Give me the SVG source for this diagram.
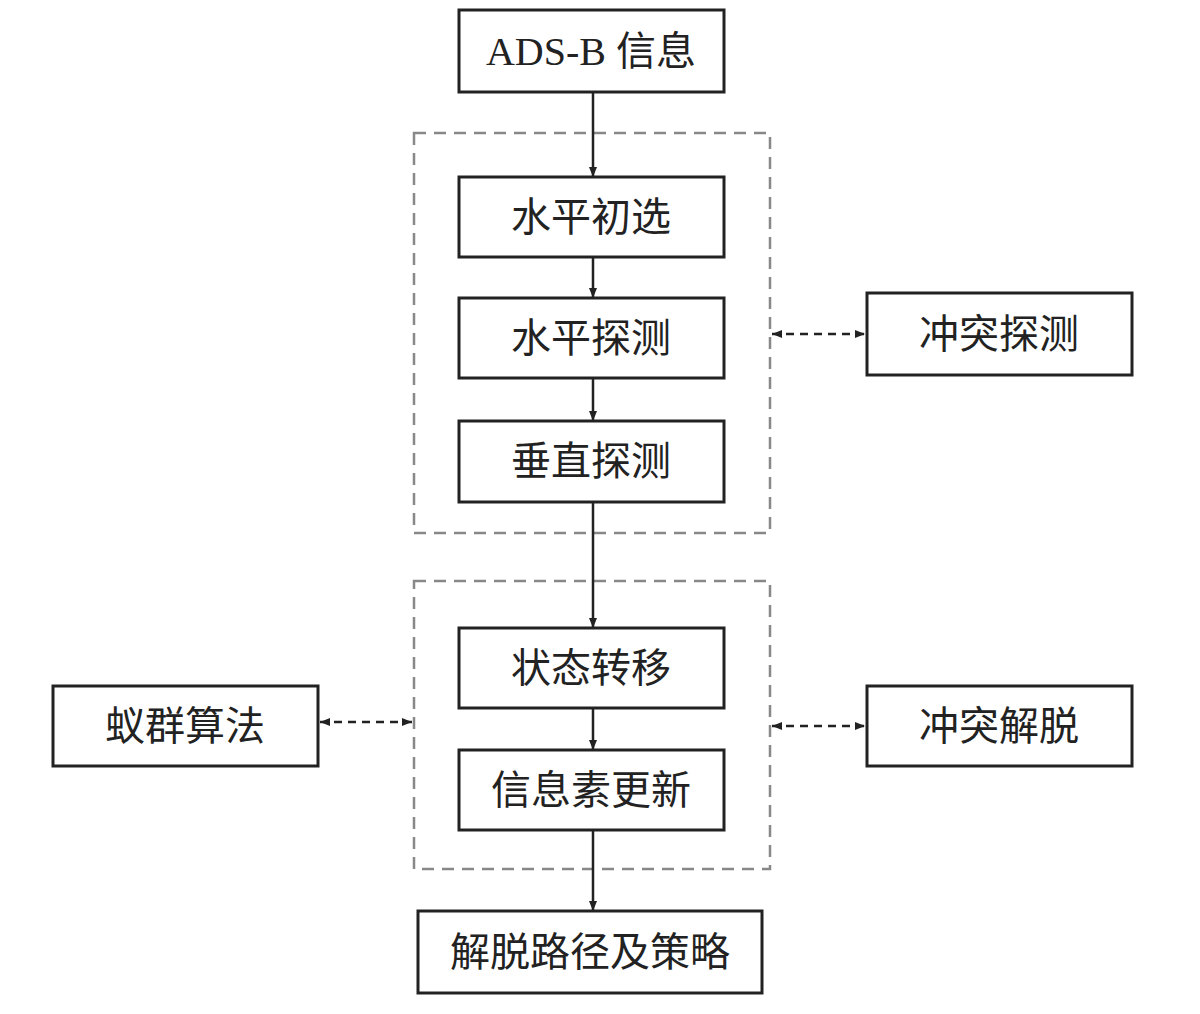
<svg xmlns="http://www.w3.org/2000/svg" width="1200" height="1014" viewBox="0 0 1200 1014">
<style>
.n rect{fill:#fff;stroke:#222;stroke-width:3}
.n text{font-family:"Liberation Serif","Noto Sans CJK SC",serif;font-size:40px;fill:#222;text-anchor:middle;dominant-baseline:central}
.g{fill:none;stroke:#888;stroke-width:2.5;stroke-dasharray:12 8}
.c line{stroke:#222;stroke-width:2.5}
.d line{stroke-dasharray:8 6}
</style>
<defs>
<marker id="a" viewBox="0 0 10 10" refX="10" refY="5" markerWidth="10" markerHeight="10" markerUnits="userSpaceOnUse" orient="auto-start-reverse"><path d="M0,1 L10,5 L0,9 z" fill="#222"/></marker>
</defs>
<rect class="g" x="414" y="133" width="356" height="400"/>
<rect class="g" x="414" y="581" width="356" height="288"/>
<g class="c">
<line x1="593" y1="92" x2="593" y2="177" marker-end="url(#a)"/>
<line x1="593" y1="257" x2="593" y2="298" marker-end="url(#a)"/>
<line x1="593" y1="378" x2="593" y2="421" marker-end="url(#a)"/>
<line x1="593" y1="502" x2="593" y2="628" marker-end="url(#a)"/>
<line x1="593" y1="708" x2="593" y2="750" marker-end="url(#a)"/>
<line x1="593" y1="830" x2="593" y2="911" marker-end="url(#a)"/>
<g class="d">
<line x1="772" y1="334" x2="865" y2="334" marker-start="url(#a)" marker-end="url(#a)"/>
<line x1="320" y1="722" x2="412" y2="722" marker-start="url(#a)" marker-end="url(#a)"/>
<line x1="772" y1="726" x2="865" y2="726" marker-start="url(#a)" marker-end="url(#a)"/>
</g>
</g>
<g id="ads" class="n"><rect x="459" y="10" width="265" height="82"/><text x="591" y="51">ADS-B 信息</text></g>
<g id="hcx" class="n"><rect x="459" y="177" width="265" height="80"/><text x="591" y="217">水平初选</text></g>
<g id="htc" class="n"><rect x="459" y="298" width="265" height="80"/><text x="591" y="338">水平探测</text></g>
<g id="vtc" class="n"><rect x="459" y="421" width="265" height="81"/><text x="591" y="461">垂直探测</text></g>
<g id="cttc" class="n"><rect x="867" y="293" width="265" height="82"/><text x="999" y="334">冲突探测</text></g>
<g id="ztzy" class="n"><rect x="459" y="628" width="265" height="80"/><text x="591" y="668">状态转移</text></g>
<g id="xxs" class="n"><rect x="459" y="750" width="265" height="80"/><text x="591" y="790">信息素更新</text></g>
<g id="yq" class="n"><rect x="53" y="686" width="265" height="80"/><text x="185" y="726">蚁群算法</text></g>
<g id="ctjt" class="n"><rect x="867" y="686" width="265" height="80"/><text x="999" y="726">冲突解脱</text></g>
<g id="jt" class="n"><rect x="418" y="911" width="344" height="82"/><text x="590" y="952">解脱路径及策略</text></g>
</svg>
